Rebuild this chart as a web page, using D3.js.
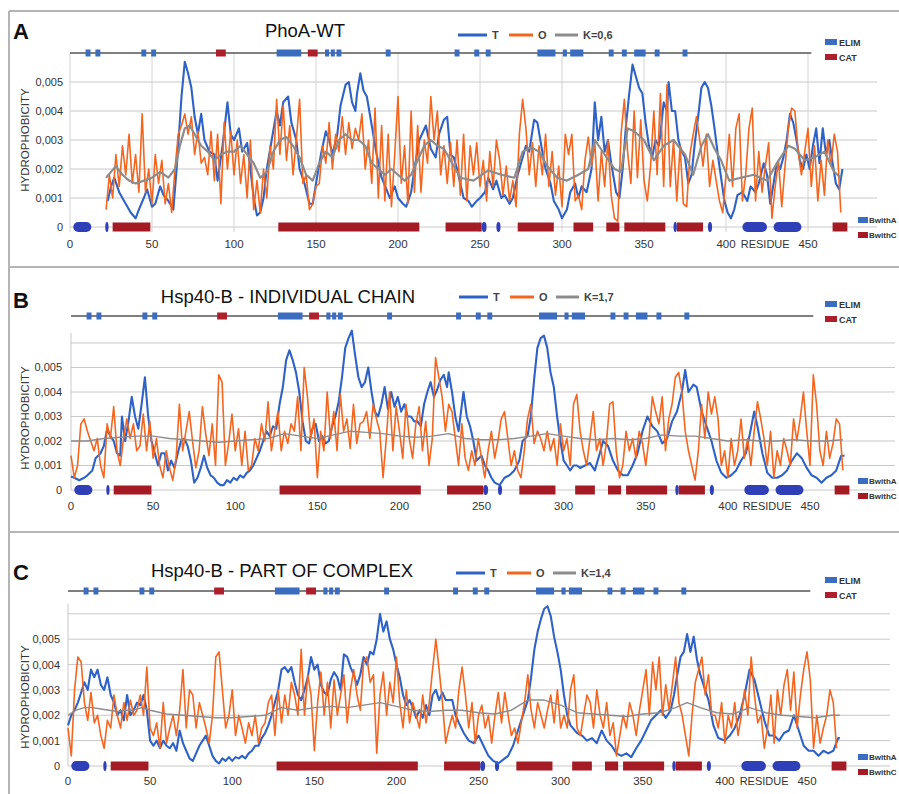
<!DOCTYPE html>
<html lang="en">
<head>
<meta charset="utf-8">
<title>Hydrophobicity profiles: PhoA-WT and Hsp40-B</title>
<script src="https://cdn.jsdelivr.net/npm/d3@7"></script>
<style>
  body { margin: 0; background: #fff; }
  svg text { font-family: "Liberation Sans", Arial, sans-serif; }
</style>
</head>
<body>
<script>
// hydrophobicity values are given in units of 0.001
var residueTicks = [0, 50, 100, 150, 200, 250, 300, 350, 400, 450];
var hydroTicks = [0, 1, 2, 3, 4, 5];
var hydroTickLabels = ["0", "0,001", "0,002", "0,003", "0,004", "0,005"];
var panelLetters = ["A", "B", "C"];
var panelTitles = ["PhoA-WT", "Hsp40-B - INDIVIDUAL CHAIN", "Hsp40-B - PART OF COMPLEX"];
var kLabels = ["K=0,6", "K=1,7", "K=1,4"];

// residue ranges of the marked regions
var elimRanges = [[9.5,12.5],[15.5,18.5],[43.5,46.5],[49.5,52.5],[126,141],[155.5,158],[159,161.5],[162.5,165.5],[192.5,195.5],
  [234.5,237.5],[246.5,249.5],[253.5,256.5],[285,296],[300.5,303],[305,313],[328.5,331.5],[336.5,339.5],[344,351],[356.5,359.5],[373.5,376.5]];
var catRanges = [[89,95],[145,151]];
var bwithARanges = [[2,13],[21.5,23.5],[251,254],[260,262.5],[368,370],[389,391.5],[410,425],[429,446]];
var bwithCRanges = [[26,49],[127,213],[229,251],[273,295],[307,319],[327,335],[338,363],[370,386],[465,474]];

// panel A (PhoA-WT)
var aT = [[23,0.9],[25,1.4],[27,1.7],[30,1.2],[33,0.9],[35,0.7],[37,0.5],[40,0.3],[42,0.6],[45,1.0],[47,1.3],[50,0.7],[52,0.8],[55,1.4],[57,1.1],[60,0.9],[63,0.6],[65,2.0],[68,4.5],[70,5.7],[72,5.3],[74,4.8],[76,3.8],[78,3.2],[80,3.9],[82,3.0],[85,2.6],[88,2.5],[90,1.6],[93,2.8],[96,4.3],[98,3.2],[100,3.0],[103,3.4],[105,2.6],[108,2.9],[110,2.0],[112,1.0],[114,0.4],[116,0.5],[118,1.0],[120,2.0],[123,3.0],[126,4.0],[128,3.5],[130,4.3],[133,4.5],[135,3.6],[138,3.0],[140,2.0],[143,1.5],[146,0.8],[148,0.8],[150,1.5],[153,2.5],[156,3.3],[158,3.0],[160,2.5],[163,3.2],[165,4.2],[168,4.9],[170,5.0],[172,4.3],[174,4.0],[175,4.6],[177,5.3],[179,4.7],[181,4.5],[184,3.5],[187,2.5],[190,1.7],[193,1.3],[195,1.0],[198,1.4],[200,1.0],[203,0.8],[205,0.7],[208,1.2],[210,2.0],[213,3.0],[217,3.5],[220,2.7],[223,2.4],[225,3.2],[228,3.7],[230,3.8],[232,2.5],[234,2.4],[236,2.0],[238,1.5],[240,1.0],[243,0.9],[245,0.7],[248,0.9],[250,1.0],[253,1.2],[255,1.7],[258,1.3],[260,1.6],[263,1.0],[265,1.1],[268,0.8],[270,1.0],[273,1.8],[275,2.2],[278,2.8],[280,2.6],[283,3.7],[285,3.6],[288,2.6],[290,2.0],[293,1.5],[295,0.9],[298,0.6],[300,0.3],[303,0.6],[305,1.2],[308,1.5],[310,1.0],[312,1.4],[315,1.2],[318,2.0],[320,4.3],[322,3.0],[324,3.8],[326,2.6],[328,3.0],[330,2.2],[333,1.2],[335,1.0],[337,2.0],[339,3.5],[341,4.6],[343,5.6],[345,5.2],[347,4.8],[349,4.6],[351,3.6],[353,2.8],[355,2.4],[357,3.0],[359,2.8],[360,3.2],[362,4.3],[364,4.0],[365,5.0],[367,4.0],[369,4.0],[371,3.0],[373,2.6],[375,2.4],[377,1.5],[379,1.8],[381,2.9],[383,3.8],[385,4.8],[387,5.0],[389,4.8],[391,4.2],[393,3.4],[395,2.5],[397,1.7],[399,0.9],[401,0.5],[403,0.3],[405,0.6],[407,1.1],[410,1.2],[413,0.9],[415,1.4],[418,1.2],[420,1.5],[423,2.2],[425,1.8],[427,0.8],[429,1.5],[431,2.2],[433,2.0],[435,2.4],[437,3.0],[439,3.9],[441,3.6],[443,3.0],[445,2.3],[447,2.0],[449,2.5],[451,2.0],[453,2.8],[455,3.4],[457,2.2],[459,3.4],[461,2.5],[463,3.0],[465,2.2],[467,1.5],[469,1.3],[471,2.0]];
var aOStart = 22;
var aO = [0.6,1.8,1.0,2.5,1.4,2.8,1.8,3.2,1.5,2.5,1.2,3.9,1.2,2.0,0.8,2.5,1.5,2.3,0.8,1.5,
  0.5,2.0,3.2,3.5,3.9,3.2,3.8,2.5,3.3,2.2,2.4,1.8,3.3,1.6,3.2,0.8,3.6,2.0,3.3,1.8,
  3.0,1.5,2.5,1.0,3.0,0.6,1.6,0.5,2.0,1.0,2.8,2.0,4.4,2.5,4.2,2.3,3.5,1.8,3.0,4.4,
  1.5,1.8,0.6,0.8,1.4,1.5,2.8,2.2,3.6,2.0,3.2,2.6,3.8,2.5,3.6,2.7,3.4,3.0,3.9,2.0,
  3.0,1.5,4.1,1.0,3.5,0.9,3.2,0.7,2.5,4.5,1.5,2.8,0.8,4.0,1.2,3.5,1.2,3.0,2.2,4.5,
  3.0,4.0,1.8,2.8,1.5,
  2.9,1.4,3.0,1.1,3.2,0.9,2.8,1.8,2.9,1.4,2.3,0.9,2.6,1.4,3.0,2.3,
  1.1,2.1,0.9,1.6,0.7,3.2,4.4,3.4,1.8,2.9,1.4,2.8,1.8,3.2,1.4,2.6,1.1,2.1,0.7,3.2,
  2.5,3.2,0.9,1.1,0.6,2.3,3.1,2.1,2.9,0.9,2.6,1.4,3.0,1.1,0.3,0.2,3.2,4.4,2.6,1.5,
  4.0,1.7,3.7,1.6,0.9,2.1,4.0,1.8,4.6,1.4,4.9,1.4,3.0,0.9,2.8,0.8,0.7,2.5,3.2,3.8,
  3.0,2.1,3.2,1.4,2.3,1.6,0.9,0.5,1.8,3.2,1.4,3.4,3.9,0.9,1.8,3.4,4.1,0.9,2.6,1.2,
  2.1,2.9,0.3,1.4,2.3,0.7,2.1,3.4,4.1,4.0,2.6,1.8,2.6,3.4,1.4,2.8,0.9,2.3,1.1,3.0,
  2.1,3.2,2.6,0.5];
var aK = [[22,1.7],[25,1.9],[28,2.1],[32,1.8],[36,1.6],[40,1.5],[45,1.6],[50,1.7],[55,1.9],[60,1.7],[64,2.0],[67,2.8],[70,3.4],[73,3.5],[76,3.2],[80,2.8],[84,2.6],[88,2.3],[92,2.5],[96,2.6],[100,2.6],[104,2.8],[108,2.5],[112,2.2],[116,1.7],[120,1.9],[124,2.6],[128,3.0],[132,3.1],[136,2.8],[140,2.4],[144,1.8],[148,1.6],[152,2.2],[156,2.6],[160,2.4],[164,3.0],[168,3.2],[172,3.0],[176,3.0],[180,2.8],[184,2.2],[188,2.0],[192,1.8],[196,2.0],[200,1.8],[204,1.6],[208,1.8],[212,2.3],[216,2.8],[220,3.0],[224,2.8],[228,2.7],[232,2.3],[238,1.7],[246,1.6],[255,1.95],[263,1.8],[271,1.7],[276,2.6],[281,2.75],[286,2.6],[291,2.1],[297,1.7],[303,1.6],[310,1.8],[316,2.0],[320,3.0],[326,2.5],[332,2.0],[336,1.9],[340,3.4],[344,3.3],[350,3.0],[356,2.3],[362,2.8],[368,3.0],[375,2.5],[380,1.8],[385,2.8],[389,3.2],[393,2.7],[397,2.3],[402,1.6],[409,1.7],[417,1.8],[425,1.6],[431,2.2],[438,2.8],[442,2.7],[448,2.3],[454,2.4],[460,2.6],[466,1.9],[470,1.7]];

// panel B (Hsp40-B, individual chain)
var bT = [[0,0.55],[2,0.5],[5,0.4],[8,0.5],[10,0.6],[13,0.8],[15,1.3],[18,1.5],[20,1.8],[22,2.5],[24,2.2],[26,2.0],[28,1.5],[30,1.4],[31,3.0],[33,2.0],[35,2.8],[37,3.8],[39,3.0],[41,2.5],[43,3.5],[45,4.6],[47,3.0],[49,2.0],[51,1.5],[53,1.0],[55,1.5],[57,1.5],[59,0.8],[61,1.2],[63,0.9],[65,1.5],[67,2.0],[69,2.1],[71,1.8],[73,1.2],[75,0.3],[77,0.5],[79,0.9],[81,1.4],[83,0.9],[85,0.6],[87,0.5],[89,0.3],[91,0.2],[93,0.2],[95,0.4],[97,0.3],[99,0.5],[101,0.4],[103,0.6],[105,0.5],[107,0.7],[109,0.8],[111,1.0],[113,1.3],[115,1.6],[117,2.0],[119,2.4],[121,2.2],[123,2.6],[125,2.5],[127,3.5],[129,4.2],[131,5.3],[133,5.7],[135,5.3],[137,4.8],[139,4.0],[141,2.8],[143,2.0],[145,1.9],[147,2.5],[149,2.7],[151,2.0],[153,2.2],[155,1.9],[157,2.0],[159,2.6],[161,3.0],[163,3.6],[165,4.6],[167,5.8],[169,6.2],[171,6.5],[173,5.5],[175,4.6],[177,4.2],[179,4.4],[181,5.0],[183,4.0],[185,3.2],[187,3.0],[189,3.5],[191,4.2],[193,3.3],[195,4.0],[197,3.4],[199,3.8],[201,3.2],[203,3.5],[205,3.0],[207,3.0],[209,2.8],[211,2.8],[213,2.6],[215,3.5],[217,4.0],[219,4.4],[221,3.8],[223,4.1],[225,4.5],[227,4.7],[229,4.2],[230,4.8],[232,4.0],[234,3.0],[236,2.4],[239,4.0],[241,3.0],[243,2.6],[245,2.0],[247,1.2],[250,1.4],[252,1.0],[254,0.8],[256,0.5],[258,0.3],[261,0.2],[264,0.5],[267,0.6],[270,0.8],[273,1.2],[275,2.0],[278,2.2],[280,3.0],[282,4.5],[284,5.8],[286,6.2],[288,6.3],[290,5.8],[292,4.8],[294,4.2],[296,3.0],[298,2.0],[300,1.2],[302,1.0],[304,0.8],[306,1.0],[308,1.0],[310,0.9],[313,1.0],[316,1.1],[319,0.8],[322,1.5],[324,2.0],[327,1.8],[330,1.2],[333,0.8],[336,0.6],[339,0.6],[342,1.0],[345,1.5],[348,2.4],[351,3.0],[354,2.6],[357,2.4],[360,1.9],[363,2.1],[366,2.8],[369,3.2],[372,4.0],[374,4.9],[376,4.0],[379,4.3],[381,4.2],[384,3.2],[386,2.8],[390,2.0],[393,1.2],[396,0.7],[399,0.5],[402,0.6],[405,0.8],[408,1.2],[411,1.5],[414,2.5],[416,3.2],[418,2.6],[421,1.5],[424,0.7],[427,0.5],[430,0.5],[433,0.6],[436,0.8],[439,1.2],[442,1.5],[445,1.3],[448,0.9],[451,0.6],[454,0.5],[457,0.3],[460,0.5],[463,0.6],[466,0.8],[469,1.4],[471,1.4]];
var bOStart = 0;
var bO = [1.4,0.5,1.0,2.7,2.9,2.4,2.0,1.6,2.1,1.0,0.5,2.7,2.1,3.4,1.6,1.0,2.1,2.9,2.1,2.7,
  1.6,1.8,3.1,1.6,2.8,1.3,2.1,1.0,0.5,1.6,0.9,0.4,1.3,3.5,1.6,2.4,3.2,2.0,0.9,1.6,
  3.4,2.3,1.4,2.7,1.0,4.7,4.4,1.0,1.9,3.1,1.6,2.5,1.0,2.4,0.8,1.0,2.1,1.6,2.7,2.0,
  3.6,1.6,2.4,3.2,1.6,2.4,1.9,2.7,2.4,3.8,1.6,5.0,3.8,2.1,2.9,0.5,2.4,1.6,4.0,2.1,
  3.2,1.6,3.9,2.4,2.9,1.7,3.5,1.9,2.7,2.8,3.2,2.1,3.5,2.9,2.4,0.5,2.1,4.0,1.6,3.4,
  2.4,1.3,3.5,2.1,1.3,2.7,3.4,1.6,2.8,1.0,2.1,5.4,4.6,3.8,2.4,3.5,
  3.2,2.1,1.0,2.7,1.3,0.8,1.6,1.0,2.1,1.3,0.5,1.6,2.4,1.3,2.0,2.9,3.2,2.1,1.0,1.6,
  0.8,0.5,1.6,2.9,3.5,1.9,2.4,2.1,1.6,2.4,1.6,2.1,1.0,2.7,1.6,2.1,1.0,3.5,3.9,2.4,
  1.6,1.0,2.1,3.2,1.6,2.1,1.0,1.9,3.5,3.6,1.6,0.5,1.0,2.4,1.6,2.1,1.3,2.4,1.9,1.0,
  2.1,3.8,3.2,2.7,3.8,1.6,2.9,3.5,4.6,4.8,4.0,2.4,1.6,1.0,0.4,1.6,3.5,2.1,4.0,3.1,
  3.8,2.9,1.0,1.6,0.5,2.1,1.0,1.6,2.9,1.3,2.1,1.0,2.4,3.6,2.9,2.1,1.0,2.4,0.5,1.6,
  1.0,2.1,1.6,1.0,2.9,2.0,2.9,4.0,2.4,1.0,4.7,3.5,1.6,1.0,2.4,1.3,1.9,2.9,2.7,0.8];
var bK = [[0,2.0],[10,2.0],[20,2.1],[30,2.15],[40,2.2],[50,2.2],[60,2.1],[70,2.05],[80,2.0],[90,1.95],[100,2.0],[110,2.05],[120,2.1],[130,2.3],[140,2.2],[150,2.1],[160,2.25],[170,2.4],[180,2.35],[190,2.3],[200,2.2],[210,2.15],[220,2.2],[230,2.3],[240,2.1],[250,2.05],[260,2.05],[270,2.1],[280,2.2],[290,2.3],[300,2.2],[310,2.1],[320,2.05],[330,2.1],[340,2.05],[350,2.1],[360,2.25],[370,2.2],[380,2.2],[390,2.1],[400,2.0],[410,2.05],[420,2.0],[430,2.0],[440,2.05],[450,2.0],[460,2.0],[470,2.05]];

// panel C (Hsp40-B, part of complex)
var cT = [[0,1.6],[2,2.0],[4,2.2],[6,2.5],[8,2.9],[10,3.3],[12,3.0],[14,3.8],[16,3.5],[18,3.8],[20,3.2],[22,3.0],[24,3.5],[26,2.8],[28,2.5],[30,2.0],[32,2.2],[34,1.8],[36,2.8],[38,2.0],[40,2.2],[42,2.5],[44,2.4],[46,2.8],[48,2.2],[50,1.0],[52,0.8],[54,1.0],[56,0.7],[58,1.0],[60,0.8],[62,0.7],[64,0.9],[66,0.6],[68,1.4],[70,0.9],[72,0.6],[74,0.3],[76,0.2],[78,0.5],[80,0.8],[82,1.0],[84,1.2],[86,0.8],[88,0.4],[90,0.2],[92,0.1],[94,0.3],[96,0.2],[98,0.35],[100,0.2],[102,0.35],[104,0.3],[106,0.4],[108,0.3],[110,0.5],[112,0.6],[114,0.8],[116,0.8],[118,1.1],[120,1.3],[122,1.6],[124,2.0],[126,2.5],[128,3.0],[130,3.8],[132,3.9],[134,3.7],[136,3.9],[138,3.3],[140,2.8],[142,2.6],[144,3.0],[146,3.5],[148,4.3],[150,3.8],[152,4.0],[154,3.2],[156,2.9],[158,2.8],[160,3.4],[162,3.7],[164,3.5],[166,3.0],[168,4.4],[170,4.3],[172,3.9],[174,3.6],[176,3.2],[178,3.6],[180,4.3],[182,4.0],[184,4.5],[186,4.4],[188,5.0],[190,6.0],[192,5.3],[194,5.7],[196,5.0],[198,4.6],[200,4.0],[202,3.5],[204,2.8],[206,2.4],[208,2.6],[210,2.3],[212,1.9],[214,2.2],[216,1.9],[218,2.4],[220,2.0],[222,2.8],[224,3.0],[226,2.6],[228,2.9],[230,2.6],[234,2.6],[236,2.0],[238,1.7],[241,1.3],[244,1.0],[247,0.9],[250,1.2],[253,0.8],[256,0.4],[259,0.2],[262,0.1],[265,0.25],[268,0.4],[271,0.8],[274,1.4],[277,2.0],[280,2.6],[282,3.5],[284,4.6],[286,5.3],[288,5.8],[290,6.2],[292,6.3],[294,5.9],[296,5.1],[298,4.5],[300,3.8],[302,2.8],[304,2.0],[306,1.6],[310,1.3],[313,1.2],[316,1.0],[319,1.1],[322,0.9],[325,1.4],[328,1.0],[331,0.8],[334,0.5],[337,0.4],[340,0.5],[343,0.35],[346,0.7],[349,1.0],[352,1.4],[355,1.8],[358,2.0],[361,2.2],[364,1.9],[367,2.2],[369,2.8],[371,3.6],[373,4.3],[375,4.5],[377,5.2],[379,4.5],[381,5.1],[383,4.2],[385,3.6],[387,3.2],[390,2.6],[393,1.6],[396,1.1],[400,1.0],[403,1.2],[406,1.5],[409,2.0],[412,2.8],[415,3.8],[418,3.4],[421,2.6],[424,1.8],[427,1.2],[430,1.2],[433,1.0],[436,1.3],[439,1.4],[442,2.0],[445,1.4],[448,0.8],[451,0.6],[454,0.6],[457,0.4],[460,0.6],[463,0.5],[466,0.6],[469,1.1],[470,1.1]];
var cOStart = 0;
var cO = [1.5,0.4,3.0,4.3,4.1,2.5,1.8,2.9,1.7,2.0,1.2,0.7,1.8,1.5,2.8,2.0,1.5,2.5,1.8,2.6,
  2.0,2.2,2.8,2.0,3.9,1.5,1.2,1.7,0.7,2.5,0.9,1.5,2.0,1.2,2.2,3.8,1.5,3.0,2.8,1.5,
  2.5,2.0,1.5,0.9,2.0,4.3,4.5,3.0,1.5,2.0,3.0,1.2,2.0,1.5,0.9,1.7,1.2,2.0,0.9,1.5,
  1.7,2.5,2.8,1.2,3.0,1.7,2.8,2.0,3.3,2.8,2.0,4.6,2.0,3.6,2.8,0.6,2.5,3.7,2.0,3.3,
  1.5,3.4,2.0,2.8,3.6,1.7,3.0,3.8,2.8,2.2,4.1,4.3,3.3,3.6,0.5,2.8,3.7,2.0,3.3,2.5,
  4.3,2.5,1.5,3.0,1.7,2.5,2.0,1.5,2.8,1.7,2.5,3.8,5.0,3.8,2.5,0.9,1.5,
  2.0,1.5,3.0,3.9,2.8,1.5,2.5,0.9,2.0,2.4,1.5,2.0,0.9,2.0,2.9,1.7,2.9,2.0,1.2,1.5,
  0.9,1.7,2.5,3.6,2.2,1.5,2.5,2.0,1.5,2.2,2.8,1.7,3.0,1.5,2.0,1.5,3.0,3.6,1.5,1.2,
  2.0,2.8,2.5,1.5,3.0,2.0,1.5,2.5,1.2,1.7,0.4,1.2,2.0,1.5,2.5,2.0,1.2,2.2,3.0,3.8,
  2.0,4.1,3.0,4.3,2.0,3.2,2.2,3.2,4.3,2.5,2.0,1.2,0.4,2.0,3.3,3.8,4.3,2.8,3.6,2.0,
  2.0,1.5,2.5,0.9,2.0,1.5,2.5,1.2,2.0,3.0,2.0,4.3,2.8,1.7,2.0,0.7,1.5,2.8,0.9,3.0,
  2.0,3.2,3.8,2.2,3.7,1.5,2.8,3.8,4.5,3.4,0.7,2.0,0.9,1.5,2.0,3.0,2.5,0.7];
var cK = [[0,2.0],[5,2.2],[10,2.3],[15,2.3],[20,2.25],[25,2.2],[30,2.15],[35,2.2],[40,2.2],[45,2.3],[50,2.2],[60,2.05],[70,2.0],[80,1.95],[90,1.9],[100,1.9],[110,1.95],[120,2.0],[130,2.3],[140,2.2],[150,2.3],[160,2.35],[170,2.3],[180,2.4],[190,2.5],[200,2.35],[210,2.2],[220,2.15],[230,2.2],[240,2.2],[250,2.1],[260,2.05],[270,2.2],[280,2.6],[290,2.6],[300,2.4],[310,2.1],[320,2.05],[330,2.0],[340,1.95],[350,2.05],[360,2.1],[370,2.3],[377,2.5],[385,2.3],[395,2.1],[405,2.05],[415,2.3],[425,2.1],[435,2.0],[445,1.95],[455,1.9],[465,2.0],[470,2.0]];

var seriesT = [aT, bT, cT];
var seriesO = [aO, bO, cO];
var seriesOStart = [aOStart, bOStart, cOStart];
var seriesK = [aK, bK, cK];

var W = 899, H = 794;
var colT = "#2f62c6", colO = "#f4661f", colK = "#8c8c8c";
var colElim = "#3a6cc0", colCat = "#ad1f2b", colBA = "#2f3fb8", colBC = "#a51b24";

var svg = d3.select("body").append("svg").attr("width", W).attr("height", H);

// panel layout
var layout = [
  {x0: 70, x450: 808, yZero: 227, yTop: 53, yMax: 6, gridMax: 5, gridRight: 877, vgrid: true,
   letterY: 39, titleX: 305, titleY: 37, legX: 458, legY: 35, elimY: 42, bwY: 220, tickY: 248, yLabY: 140, tickLabX: 63, kW: 2.2},
  {x0: 71, x450: 810, yZero: 490, yTop: 316, yMax: 7.1, gridMax: 6, gridRight: 895, vgrid: false,
   letterY: 308, titleX: 288, titleY: 303, legX: 459, legY: 297, elimY: 304, bwY: 481, tickY: 510, yLabY: 418, tickLabX: 62, kW: 1.4},
  {x0: 68, x450: 807, yZero: 766, yTop: 591, yMax: 6.9, gridMax: 6, gridRight: 890, vgrid: false,
   letterY: 580, titleX: 282, titleY: 577, legX: 456, legY: 573, elimY: 580, bwY: 757, tickY: 785, yLabY: 697, tickLabX: 60, kW: 1.4}
];

// frame
svg.append("line").attr("x1", 9).attr("x2", W).attr("y1", 11).attr("y2", 11).attr("stroke", "#b5b5b5").attr("stroke-width", 2);
svg.append("line").attr("x1", 9).attr("x2", 9).attr("y1", 11).attr("y2", H).attr("stroke", "#b5b5b5").attr("stroke-width", 2);
[267, 532].forEach(function(yy) {
  svg.append("line").attr("x1", 9).attr("x2", W).attr("y1", yy).attr("y2", yy).attr("stroke", "#b5b5b5").attr("stroke-width", 2);
});

layout.forEach(function(p, pi) {
  var g = svg.append("g");
  var x = d3.scaleLinear().domain([0, 450]).range([p.x0, p.x450]);
  var y = d3.scaleLinear().domain([0, p.yMax]).range([p.yZero, p.yTop]);

  // horizontal grid
  var gridVals = d3.range(0, p.gridMax + 1);
  g.selectAll(".hg").data(gridVals).enter().append("line")
    .attr("x1", x(0)).attr("x2", p.gridRight)
    .attr("y1", function(d) { return y(d); }).attr("y2", function(d) { return y(d); })
    .attr("stroke", "#c8c8c8").attr("stroke-width", 1);
  if (p.vgrid) {
    g.selectAll(".vg").data(residueTicks).enter().append("line")
      .attr("x1", function(d) { return x(d); }).attr("x2", function(d) { return x(d); })
      .attr("y1", y(p.yMax)).attr("y2", p.yZero + 5)
      .attr("stroke", "#d4d4d4").attr("stroke-width", 1);
  } else {
    g.append("line").attr("x1", x(0)).attr("x2", x(0)).attr("y1", y(p.gridMax) - 10).attr("y2", p.yZero)
      .attr("stroke", "#c8c8c8").attr("stroke-width", 1);
  }

  // top line with ELIM / CAT marks
  g.append("line").attr("x1", x(0)).attr("x2", x(452)).attr("y1", p.yTop).attr("y2", p.yTop)
    .attr("stroke", "#555").attr("stroke-width", 1.6);
  g.selectAll(".elim").data(elimRanges).enter().append("rect")
    .attr("x", function(d) { return x(d[0]); }).attr("width", function(d) { return x(d[1]) - x(d[0]); })
    .attr("y", p.yTop - 3.5).attr("height", 7).attr("fill", colElim);
  g.selectAll(".cat").data(catRanges).enter().append("rect")
    .attr("x", function(d) { return x(d[0]); }).attr("width", function(d) { return x(d[1]) - x(d[0]); })
    .attr("y", p.yTop - 3.5).attr("height", 7).attr("fill", colCat);

  // bottom B-with-A / B-with-C marks
  g.selectAll(".bc").data(bwithCRanges).enter().append("rect")
    .attr("x", function(d) { return x(d[0]); }).attr("width", function(d) { return x(d[1]) - x(d[0]); })
    .attr("y", p.yZero - 4.5).attr("height", 9).attr("fill", colBC);
  g.selectAll(".ba").data(bwithARanges).enter().append("rect")
    .attr("x", function(d) { return x(d[0]); }).attr("width", function(d) { return x(d[1]) - x(d[0]); })
    .attr("y", p.yZero - 5).attr("height", 10).attr("rx", 5).attr("fill", colBA);

  // series
  var line = d3.line().x(function(d) { return x(d[0]); }).y(function(d) { return y(d[1]); });
  var oPts = seriesO[pi].map(function(v, i) { return [seriesOStart[pi] + 2 * i, v]; });
  g.append("path").attr("d", line(seriesT[pi])).attr("fill", "none").attr("stroke", colT).attr("stroke-width", 2.1).attr("stroke-linejoin", "round");
  g.append("path").attr("d", line(oPts)).attr("fill", "none").attr("stroke", colO).attr("stroke-width", 1.6).attr("stroke-linejoin", "round");
  g.append("path").attr("d", line(seriesK[pi])).attr("fill", "none").attr("stroke", colK).attr("stroke-width", p.kW).attr("stroke-linejoin", "round");

  // axes text
  g.selectAll(".yt").data(hydroTicks).enter().append("text")
    .attr("x", p.tickLabX).attr("y", function(d) { return y(d) + 4; })
    .attr("text-anchor", "end").attr("font-size", 11).attr("fill", "#333")
    .text(function(d, i) { return hydroTickLabels[i]; });
  g.selectAll(".xt").data(residueTicks).enter().append("text")
    .attr("x", function(d) { return x(d); }).attr("y", p.tickY)
    .attr("text-anchor", "middle").attr("font-size", 11.5).attr("fill", "#333")
    .text(function(d) { return d; });
  g.append("text").attr("x", x(409)).attr("y", p.tickY).attr("text-anchor", "start")
    .attr("font-size", 11).attr("fill", "#333").text("RESIDUE");
  g.append("text").attr("transform", "translate(29," + p.yLabY + ") rotate(-90)")
    .attr("text-anchor", "middle").attr("font-size", 11.5).attr("fill", "#333").text("HYDROPHOBICITY");

  // titles
  g.append("text").attr("x", 13).attr("y", p.letterY).attr("font-size", 22).attr("font-weight", "bold")
    .attr("fill", "#111").text(panelLetters[pi]);
  g.append("text").attr("x", p.titleX).attr("y", p.titleY).attr("text-anchor", "middle")
    .attr("font-size", 18.5).attr("fill", "#111").text(panelTitles[pi]);

  // T / O / K legend
  var leg = [[colT, "T", 29], [colO, "O", 24], [colK, kLabels[pi], 23]];
  var lx = p.legX;
  leg.forEach(function(l) {
    g.append("line").attr("x1", lx).attr("x2", lx + l[2]).attr("y1", p.legY).attr("y2", p.legY)
      .attr("stroke", l[0]).attr("stroke-width", 3);
    g.append("text").attr("x", lx + l[2] + 5).attr("y", p.legY + 4).attr("font-size", 11)
      .attr("font-weight", "bold").attr("fill", "#444").text(l[1]);
    lx += l[2] + 22;
  });

  // region legends
  var rl = [[colElim, "ELIM", p.elimY], [colCat, "CAT", p.elimY + 15]];
  rl.forEach(function(r) {
    g.append("rect").attr("x", 825).attr("y", r[2] - 3).attr("width", 12).attr("height", 6).attr("fill", r[0]);
    g.append("text").attr("x", 839).attr("y", r[2] + 3.5).attr("font-size", 9).attr("font-weight", "bold")
      .attr("fill", "#333").text(r[1]);
  });
  var bl = [[colElim, "BwithA", p.bwY], [colBC, "BwithC", p.bwY + 15]];
  bl.forEach(function(r) {
    g.append("rect").attr("x", 858).attr("y", r[2] - 3).attr("width", 10).attr("height", 6).attr("fill", r[0]);
    g.append("text").attr("x", 869).attr("y", r[2] + 3).attr("font-size", 8).attr("font-weight", "bold")
      .attr("fill", "#333").text(r[1]);
  });
});
</script>
</body>
</html>
